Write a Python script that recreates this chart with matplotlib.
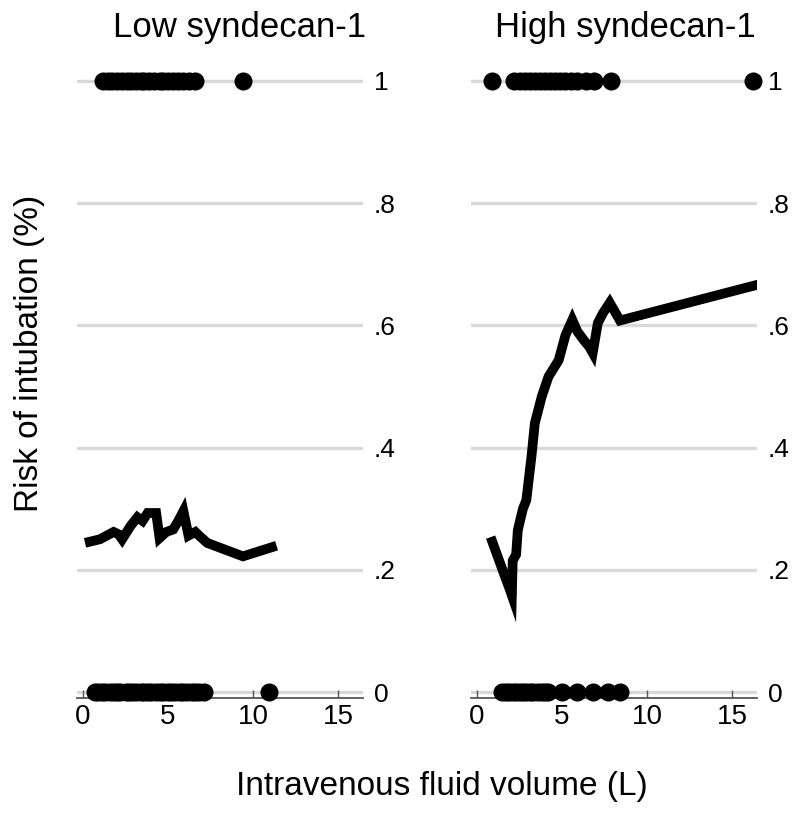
#!/usr/bin/env python
# Risk of intubation vs IV fluid volume, split by syndecan-1 level
import matplotlib
matplotlib.use("Agg")
import matplotlib.pyplot as plt

plt.rcParams['font.family'] = ['Liberation Sans', 'DejaVu Sans']

# observed outcomes (fluid volume in L) - low syndecan-1
low_intub = [1.2, 1.5, 1.7, 2.0, 2.3, 2.6, 2.8, 3.1, 3.4, 3.6, 3.9, 4.2,
             4.5, 4.7, 5.0, 5.3, 5.6, 5.9, 6.2, 6.6, 9.4]
low_no_intub = [0.7, 0.9, 1.1, 1.3, 1.6, 1.8, 2.0, 2.2, 2.5, 2.7, 2.9, 3.1,
                3.4, 3.6, 3.8, 4.0, 4.3, 4.5, 4.7, 5.0, 5.2, 5.4, 5.7, 5.9,
                6.1, 6.4, 6.6, 6.8, 7.1, 10.9]
# lowess smooth - low syndecan-1
low_fit_x = [0.4, 1.0, 1.8, 2.1, 2.3, 2.8, 3.2, 3.5, 3.8, 4.3, 4.5, 4.9,
             5.3, 5.6, 5.9, 6.2, 6.6, 6.9, 7.3, 9.4, 11.1]
low_fit_y = [0.246, 0.250, 0.262, 0.258, 0.250, 0.272, 0.286, 0.280, 0.293,
             0.293, 0.252, 0.262, 0.266, 0.280, 0.296, 0.256, 0.262, 0.254,
             0.244, 0.222, 0.237]

# observed outcomes - high syndecan-1
high_intub = [0.9, 2.2, 2.5, 2.8, 3.1, 3.4, 3.7, 4.0, 4.3, 4.6, 4.9, 5.2,
              5.5, 5.9, 6.4, 6.9, 7.9, 16.2]
high_no_intub = [1.5, 1.7, 1.9, 2.1, 2.3, 2.5, 2.7, 2.9, 3.1, 3.3, 3.6, 3.8,
                 4.0, 4.2, 5.0, 5.9, 6.8, 7.7, 8.4]
# lowess smooth - high syndecan-1
high_fit_x = [0.9, 1.5, 1.9, 2.05, 2.1, 2.3, 2.4, 2.7, 2.9, 3.2, 3.4, 3.8,
              4.2, 4.8, 5.2, 5.6, 5.9, 6.3, 6.6, 6.8, 7.1, 7.4, 7.8, 8.4,
              16.4]
high_fit_y = [0.246, 0.200, 0.170, 0.158, 0.215, 0.225, 0.265, 0.300, 0.314,
              0.385, 0.440, 0.483, 0.516, 0.543, 0.584, 0.609, 0.590, 0.575,
              0.565, 0.555, 0.604, 0.620, 0.637, 0.608, 0.666]

titles = ["Low syndecan-1", "High syndecan-1"]
yticks = [0, 0.2, 0.4, 0.6, 0.8, 1]
yticklabels = ["0", ".2", ".4", ".6", ".8", "1"]
xticks = [0, 5, 10, 15]

panels = [
    (low_intub, low_no_intub, low_fit_x, low_fit_y),
    (high_intub, high_no_intub, high_fit_x, high_fit_y),
]

fig = plt.figure(figsize=(8, 8.17), dpi=100)
ax_lefts = [77 / 800, 471 / 800]
title_x = [240 / 800, 625 / 800]

for i, (yes, no, fx, fy) in enumerate(panels):
    ax = fig.add_axes([ax_lefts[i], 119 / 817, 286 / 800, 628 / 817])
    for y in yticks:
        ax.axhline(y, color='#d9d9d9', lw=2.4, zorder=0)
    ax.scatter(yes, [1] * len(yes), s=169, color='black', lw=0, zorder=3,
               clip_on=False)
    ax.scatter(no, [0] * len(no), s=169, color='black', lw=0, zorder=3,
               clip_on=False)
    ax.plot(fx, fy, color='black', lw=7, zorder=2, solid_joinstyle='miter')

    ax.set_xlim(-0.35, 16.45)
    ax.set_ylim(-0.0098, 1.018)
    ax.set_xticks(xticks)
    ax.set_xticklabels([str(t) for t in xticks], fontsize=20)
    ax.tick_params(axis='x', direction='in', length=6, width=1,
                   color='#555555', pad=4)
    ax.yaxis.tick_right()
    ax.set_yticks(yticks)
    ax.set_yticklabels(yticklabels, fontsize=19)
    ax.tick_params(axis='y', length=0, pad=8)
    for side in ['left', 'right', 'top']:
        ax.spines[side].set_visible(False)
    ax.spines['bottom'].set_color('#555555')
    ax.spines['bottom'].set_linewidth(1.3)

    fig.text(title_x[i], 1 - 37 / 817, titles[i], fontsize=25,
             ha='center', va='baseline')

fig.text(442 / 800, 1 - 795 / 817, "Intravenous fluid volume (L)",
         fontsize=24, ha='center', va='baseline')
fig.text(30 / 800, 1 - 353 / 817, "Risk of intubation (%)", fontsize=24,
         rotation=90, ha='center', va='center')

fig.savefig("out.png", dpi=100, facecolor='white')
